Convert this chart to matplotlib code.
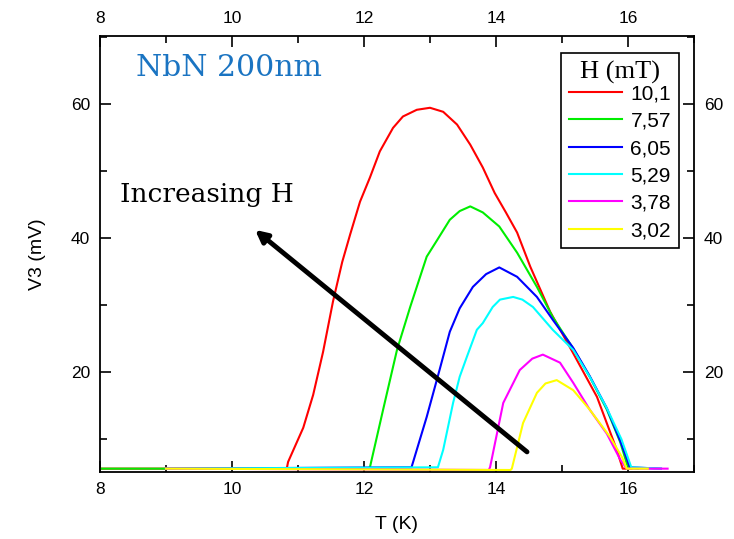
import matplotlib
matplotlib.use("Agg")
import matplotlib.pyplot as plt
from matplotlib.ticker import MultipleLocator

plt.rcParams['font.family'] = ['Liberation Sans', 'DejaVu Sans']

# Third-harmonic voltage V3 vs temperature for several applied fields
field_labels = ["10,1", "7,57", "6,05", "5,29", "3,78", "3,02"]
colors = ["#ff0000", "#00ee00", "#0000ff", "#00ffff", "#ff00ff", "#ffff00"]

T_101 = [8.0, 10.83, 10.85, 11.08, 11.23, 11.38, 11.53, 11.67, 11.79, 11.94, 12.09,
         12.24, 12.44, 12.59, 12.80, 13.00, 13.20, 13.41, 13.61, 13.80, 13.98,
         14.15, 14.32, 14.52, 14.82, 15.17, 15.53, 15.83, 15.92, 16.05]
V_101 = [5.6, 5.6, 6.6, 11.7, 16.6, 23.0, 30.5, 36.4, 40.5, 45.4, 49.0,
         52.9, 56.4, 58.1, 59.1, 59.4, 58.8, 56.9, 53.9, 50.5, 46.7,
         43.8, 40.8, 35.7, 29.0, 22.8, 16.3, 8.4, 5.6, 5.6]

T_757 = [8.0, 12.05, 12.09, 12.29, 12.50, 12.70, 12.95, 13.11, 13.30, 13.45, 13.61,
         13.80, 14.05, 14.32, 14.62, 14.86, 15.17, 15.42, 15.68, 15.88, 16.0, 16.15]
V_757 = [5.6, 5.6, 5.8, 14.4, 23.3, 29.7, 37.2, 39.7, 42.7, 44.0, 44.7,
         43.8, 41.7, 37.8, 32.7, 28.2, 23.5, 19.3, 14.4, 9.6, 5.8, 5.6]

T_605 = [9.0, 12.72, 12.95, 13.15, 13.30, 13.45, 13.65, 13.85, 14.05, 14.32, 14.62,
         14.86, 15.17, 15.42, 15.68, 15.88, 16.03, 16.5]
V_605 = [5.6, 5.8, 13.3, 20.5, 26.0, 29.5, 32.7, 34.6, 35.6, 34.2, 31.2,
         27.8, 23.6, 19.4, 14.6, 9.8, 5.8, 5.6]

T_529 = [9.0, 13.12, 13.20, 13.35, 13.45, 13.56, 13.71, 13.80, 13.95, 14.06, 14.26,
         14.40, 14.56, 14.86, 15.17, 15.42, 15.68, 15.90, 16.05, 16.5]
V_529 = [5.6, 5.8, 8.4, 15.4, 19.3, 22.3, 26.3, 27.3, 29.7, 30.8, 31.2,
         30.8, 29.7, 26.3, 23.3, 19.3, 14.6, 10.0, 5.8, 5.6]

T_378 = [9.0, 13.89, 13.91, 14.11, 14.36, 14.55, 14.71, 14.97, 15.17, 15.42, 15.68,
         15.88, 15.98, 16.6]
V_378 = [5.6, 5.4, 5.8, 15.4, 20.3, 22.0, 22.6, 21.4, 18.4, 14.4, 10.8,
         7.0, 5.6, 5.6]

T_302 = [9.0, 14.22, 14.24, 14.41, 14.62, 14.75, 14.92, 15.17, 15.42, 15.73, 15.91,
         15.98, 16.3]
V_302 = [5.6, 5.4, 5.6, 12.4, 16.9, 18.3, 18.8, 17.3, 14.4, 10.3, 7.3,
         5.6, 5.6]

series_T = [T_101, T_757, T_605, T_529, T_378, T_302]
series_V = [V_101, V_757, V_605, V_529, V_378, V_302]

serif = ['DejaVu Serif', 'Liberation Serif']

fig = plt.figure(figsize=(7.34, 5.39), dpi=100)
ax = fig.add_axes([0.1362, 0.1243, 0.8093, 0.8089])

for T, V, c, lab in zip(series_T, series_V, colors, field_labels):
    ax.plot(T, V, color=c, lw=1.5, label=lab)

ax.set_xlim(8, 17)
ax.set_ylim(5.1, 70.1)
ax.xaxis.set_major_locator(MultipleLocator(2))
ax.xaxis.set_minor_locator(MultipleLocator(1))
ax.yaxis.set_major_locator(MultipleLocator(20))
ax.yaxis.set_minor_locator(MultipleLocator(10))
ax.tick_params(which='both', direction='in', top=True, right=True,
               labeltop=True, labelright=True, labelsize=12.5, width=1.2)
ax.tick_params(which='major', length=8, pad=7)
ax.tick_params(which='minor', length=5)
for s in ax.spines.values():
    s.set_linewidth(1.3)

ax.set_xlabel("T (K)", fontsize=14, labelpad=14)
ax.set_ylabel("V3 (mV)", fontsize=14, labelpad=18)

ax.text(8.55, 65.4, "NbN 200nm", color="#1a74c2", fontsize=21.5,
        family=serif, va='center', ha='left')
ax.text(8.3, 46.4, "Increasing H", color="black", fontsize=19,
        family=serif, va='center', ha='left')

ax.annotate("", xy=(10.35, 41.2), xytext=(14.47, 8.1),
            arrowprops=dict(arrowstyle="-|>,head_length=0.7,head_width=0.35",
                            color="black", lw=3.5, shrinkA=0, shrinkB=0))

leg = ax.legend(loc='upper right', bbox_to_anchor=(0.9755, 0.961), fontsize=15,
                title="H (mT)",
                title_fontproperties={'family': 'Liberation Serif', 'size': 19},
                frameon=True, fancybox=False, edgecolor='black', framealpha=1,
                handlelength=2.55, handletextpad=0.4, labelspacing=0.4,
                borderpad=0.4, borderaxespad=0)
leg.get_frame().set_linewidth(1.2)
leg._legend_box.sep = 0

fig.savefig("out.png", dpi=100)
